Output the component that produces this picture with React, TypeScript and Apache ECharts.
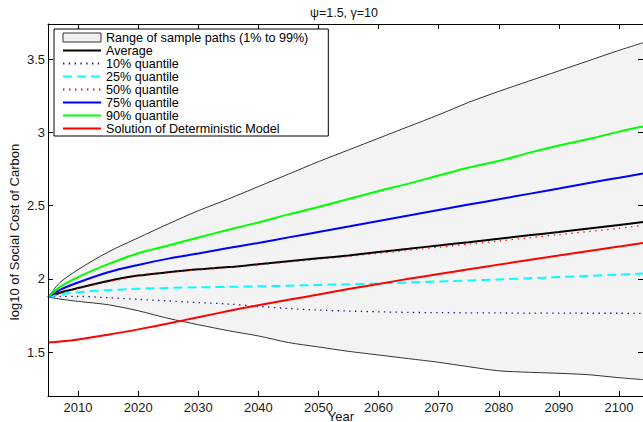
import React, { useEffect, useRef } from "react";
import * as echarts from "echarts";

const years = [2005, 2007, 2010, 2015, 2020, 2025, 2030, 2035, 2040, 2045, 2050, 2055, 2060, 2065, 2070, 2075, 2080, 2085, 2090, 2095, 2100, 2104];
const upper99 = [1.875, 1.975, 2.063, 2.183, 2.28, 2.375, 2.465, 2.545, 2.63, 2.715, 2.8, 2.88, 2.96, 3.04, 3.12, 3.205, 3.28, 3.35, 3.42, 3.49, 3.56, 3.612];
const lower1 = [1.875, 1.862, 1.846, 1.823, 1.782, 1.73, 1.687, 1.646, 1.61, 1.565, 1.535, 1.505, 1.48, 1.455, 1.43, 1.4, 1.372, 1.362, 1.355, 1.345, 1.325, 1.312];
const average = [1.875, 1.905, 1.937, 1.985, 2.022, 2.045, 2.065, 2.08, 2.1, 2.12, 2.14, 2.16, 2.183, 2.205, 2.228, 2.25, 2.273, 2.297, 2.32, 2.344, 2.368, 2.388];
const q10 = [1.875, 1.88, 1.88, 1.871, 1.86, 1.849, 1.838, 1.828, 1.812, 1.797, 1.787, 1.78, 1.775, 1.771, 1.769, 1.768, 1.767, 1.766, 1.766, 1.765, 1.765, 1.764];
const q25 = [1.875, 1.893, 1.908, 1.923, 1.932, 1.938, 1.942, 1.945, 1.949, 1.953, 1.958, 1.963, 1.968, 1.975, 1.982, 1.989, 1.996, 2.004, 2.012, 2.02, 2.029, 2.036];
const q50 = [1.875, 1.904, 1.934, 1.98, 2.018, 2.042, 2.062, 2.077, 2.096, 2.115, 2.134, 2.153, 2.174, 2.195, 2.216, 2.237, 2.258, 2.28, 2.302, 2.323, 2.345, 2.365];
const q75 = [1.875, 1.925, 1.975, 2.045, 2.095, 2.138, 2.173, 2.21, 2.245, 2.283, 2.32, 2.357, 2.395, 2.432, 2.47, 2.507, 2.543, 2.58, 2.617, 2.655, 2.69, 2.72];
const q90 = [1.875, 1.945, 2.012, 2.1, 2.175, 2.228, 2.282, 2.335, 2.385, 2.44, 2.49, 2.545, 2.6, 2.65, 2.705, 2.76, 2.805, 2.86, 2.91, 2.955, 3.005, 3.04];
const deterministic = [1.565, 1.572, 1.586, 1.618, 1.655, 1.695, 1.738, 1.78, 1.82, 1.857, 1.893, 1.93, 1.965, 2.0, 2.033, 2.065, 2.097, 2.128, 2.16, 2.19, 2.22, 2.245];

const xTicks = [2010, 2020, 2030, 2040, 2050, 2060, 2070, 2080, 2090, 2100];
const yTicks = [1.5, 2, 2.5, 3, 3.5];

const titleText = "ψ=1.5, γ=10";
const xName = "Year";
const yName = "log10 of Social Cost of Carbon";
const rangeName = "Range of sample paths (1% to 99%)";

const FONT = "'Liberation Sans', Arial, Helvetica, sans-serif";

const pairs = (ys: number[]) => years.map((x, i) => [x, ys[i]]);

export default function App() {
  const ref = useRef<HTMLDivElement>(null);
  useEffect(() => {
    if (!ref.current) return;
    document.body.style.overflow = "hidden";
    const chart = echarts.init(ref.current, null, { renderer: "svg" });
    const axisLine = { show: true, lineStyle: { color: "#000", width: 1 } };
    const xBase = {
      type: "value" as const,
      min: 2005,
      max: 2104,
      z: 10,
      axisLine,
      splitLine: { show: false },
      axisTick: { show: true, inside: true, length: 5, lineStyle: { color: "#000" }, customValues: xTicks },
    };
    const yBase = {
      type: "value" as const,
      min: 1.2,
      max: 3.74,
      z: 10,
      axisLine,
      splitLine: { show: false },
      axisTick: { show: true, inside: true, length: 5, lineStyle: { color: "#000" }, customValues: yTicks },
    };
    const lineSeries = (name: string, data: number[], color: string, width: number, type: any) => ({
      name,
      type: "line",
      data: pairs(data),
      symbol: "none",
      smooth: 0.3,
      lineStyle: { color, width, type },
      itemStyle: { color },
      z: 3,
    });
    const hideSym = { itemStyle: { opacity: 0 } };
    const option: any = {
      animation: false,
      textStyle: { fontFamily: FONT },
      grid: { left: 48, top: 24, width: 597, height: 372, containLabel: false },
      xAxis: [
        {
          ...xBase,
          position: "bottom",
          axisLabel: {
            show: true,
            customValues: xTicks,
            color: "#1a1a1a",
            fontSize: 13,
            margin: 5,
            fontFamily: FONT,
            formatter: (v: number) => String(v),
          },
        },
        { ...xBase, position: "top", axisLabel: { show: false } },
      ],
      yAxis: [
        {
          ...yBase,
          position: "left",
          axisLabel: {
            show: true,
            customValues: yTicks,
            color: "#1a1a1a",
            fontSize: 13,
            margin: 3,
            fontFamily: FONT,
            formatter: (v: number) => String(v),
          },
        },
        { ...yBase, position: "right", axisLabel: { show: false } },
      ],
      legend: {
        orient: "vertical",
        left: 54,
        top: 29,
        padding: [2, 6, 1, 8],
        itemGap: 0,
        itemWidth: 38,
        itemHeight: 9,
        backgroundColor: "#fff",
        borderColor: "#000",
        borderWidth: 1,
        borderRadius: 0,
        z: 20,
        selectedMode: false,
        textStyle: { fontSize: 12.6, lineHeight: 13, color: "#000", fontFamily: FONT, padding: [0, 14, 0, 0] },
        data: [
          { name: rangeName, icon: "rect", itemStyle: { color: "#f1f1f1", borderColor: "#333", borderWidth: 1, opacity: 1 } },
          { name: "Average", ...hideSym },
          { name: "10% quantile", ...hideSym },
          { name: "25% quantile", ...hideSym },
          { name: "50% quantile", ...hideSym },
          { name: "75% quantile", ...hideSym },
          { name: "90% quantile", ...hideSym },
          { name: "Solution of Deterministic Model", ...hideSym },
        ],
      },
      graphic: [
        { type: "text", x: 344, y: 12.5, style: { text: titleText, fontSize: 12.5, fontFamily: FONT, fill: "#111", align: "center", verticalAlign: "middle" } },
        { type: "text", x: 341, y: 416, style: { text: xName, fontSize: 13, fontFamily: FONT, fill: "#111", align: "center", verticalAlign: "middle" } },
        { type: "text", x: 14, y: 232, rotation: Math.PI / 2, style: { text: yName, fontSize: 13, fontFamily: FONT, fill: "#111", align: "center", verticalAlign: "middle" } },
      ],
      series: [
        {
          name: rangeName,
          type: "line",
          data: pairs(upper99),
          symbol: "none",
          smooth: 0.3,
          lineStyle: { color: "#000", width: 0.8 },
          itemStyle: { color: "#f1f1f1" },
          areaStyle: { color: "#f3f3f3", opacity: 1, origin: "start" },
          z: 1,
        },
        {
          name: "lower bound",
          type: "line",
          data: pairs(lower1),
          symbol: "none",
          smooth: 0.3,
          lineStyle: { color: "#000", width: 0.8 },
          areaStyle: { color: "#ffffff", opacity: 1, origin: "start" },
          z: 1,
        },
        lineSeries("Average", average, "#000000", 2, "solid"),
        lineSeries("10% quantile", q10, "#1c1c96", 1.3, [1.4, 4.4]),
        lineSeries("25% quantile", q25, "#00ffff", 2, [9, 5]),
        lineSeries("50% quantile", q50, "#ff0000", 1.2, [1.4, 4.6]),
        lineSeries("75% quantile", q75, "#0000ff", 2, "solid"),
        lineSeries("90% quantile", q90, "#00ff00", 2, "solid"),
        lineSeries("Solution of Deterministic Model", deterministic, "#ff0000", 2, "solid"),
      ],
    };
    chart.setOption(option);
    return () => chart.dispose();
  }, []);
  return (
    <div
      ref={ref}
      style={{ position: "absolute", left: 0, top: 0, width: 643, height: 422, background: "#fff" }}
    />
  );
}
